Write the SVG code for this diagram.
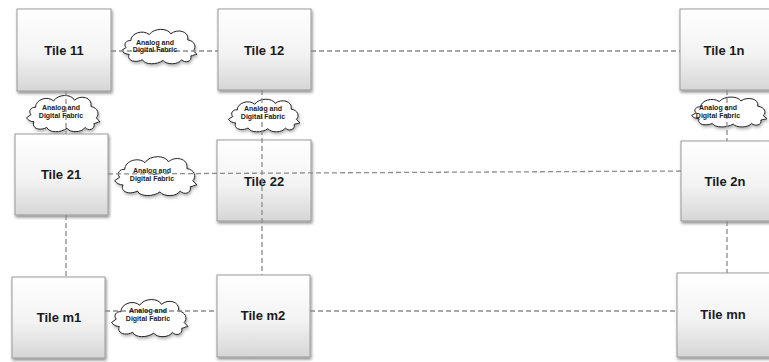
<svg xmlns="http://www.w3.org/2000/svg" xmlns:xlink="http://www.w3.org/1999/xlink" width="769" height="362" viewBox="0 0 769 362">
<style>
.tile{fill:url(#tg);stroke:#9a9a9a;stroke-width:1;filter:url(#sh)}
.tl{font-family:"Liberation Sans",Arial,sans-serif;font-weight:bold;font-size:13px;fill:#1a1a1a;text-anchor:middle}
.cl{font-family:"Liberation Sans",Arial,sans-serif;font-weight:bold;font-size:7px;fill:#222;text-anchor:middle}
.cloud{fill:#fff;stroke:#222;stroke-width:1;vector-effect:non-scaling-stroke}
.dash{stroke:#8c8c8c;stroke-width:1.3;stroke-dasharray:5 3;fill:none}
</style>
<defs>
<linearGradient id="tg" x1="0" y1="0" x2="0" y2="1">
<stop offset="0" stop-color="#ffffff"/>
<stop offset="0.55" stop-color="#f3f3f3"/>
<stop offset="1" stop-color="#d6d6d6"/>
</linearGradient>
<filter id="sh" x="-20%" y="-20%" width="140%" height="140%">
<feDropShadow dx="1" dy="2" stdDeviation="1.5" flood-color="#000" flood-opacity="0.45"/>
</filter>
<filter id="csh" x="-20%" y="-20%" width="140%" height="150%">
<feDropShadow dx="1" dy="2" stdDeviation="1.5" flood-color="#000" flood-opacity="0.3"/>
</filter>
<symbol id="cloud" viewBox="0 0 100 50" preserveAspectRatio="none" overflow="visible">
<path class="cloud" d="M8,27 C4,23 8,17 14,18 C14,8 30,3 38,10 C44,1 62,1 66,9 C74,2 90,5 88,17 C97,18 100,27 95,31 L100,36 C97,36 95,38 92,38 C94,46 84,48 80,43 C76,50 60,50 56,44 C48,50 32,50 29,43 C20,48 8,44 12,36 C8,36 4,34 2,31 Z"/>
</symbol>
</defs>

<g id="clouds">
<g id="cloud-1" filter="url(#csh)"><use xlink:href="#cloud" x="120" y="27" width="77" height="38"/></g>
<g id="cloud-2" filter="url(#csh)"><use xlink:href="#cloud" x="25" y="93" width="75" height="40"/></g>
<g id="cloud-3" filter="url(#csh)"><use xlink:href="#cloud" x="227" y="97" width="73" height="36"/></g>
<g id="cloud-4" filter="url(#csh)"><use xlink:href="#cloud" x="113" y="154" width="84" height="43"/></g>
<g id="cloud-5" filter="url(#csh)"><use xlink:href="#cloud" x="110" y="297" width="78" height="41"/></g>
<g id="cloud-6" filter="url(#csh)"><use xlink:href="#cloud" x="690" y="95" width="77" height="33"/></g>
</g>

<g id="tile-11"><rect class="tile" x="17" y="9" width="94" height="82"/><text class="tl" x="64" y="55">Tile 11</text></g>
<g id="tile-12"><rect class="tile" x="218" y="9" width="93" height="81"/><text class="tl" x="264" y="55">Tile 12</text></g>
<g id="tile-1n"><rect class="tile" x="680" y="9" width="94" height="81"/><text class="tl" x="724" y="55">Tile 1n</text></g>
<g id="tile-21"><rect class="tile" x="15" y="134" width="93" height="81"/><text class="tl" x="61" y="179">Tile 21</text></g>
<g id="tile-22"><rect class="tile" x="217" y="140" width="94" height="81"/><text class="tl" x="264" y="186">Tile 22</text></g>
<g id="tile-2n"><rect class="tile" x="681" y="141" width="94" height="80"/><text class="tl" x="725" y="186">Tile 2n</text></g>
<g id="tile-m1"><rect class="tile" x="12" y="277" width="93" height="81"/><text class="tl" x="59" y="322">Tile m1</text></g>
<g id="tile-m2"><rect class="tile" x="217" y="275" width="93" height="82"/><text class="tl" x="263" y="320">Tile m2</text></g>
<g id="tile-mn"><rect class="tile" x="677" y="273" width="94" height="84"/><text class="tl" x="723" y="319">Tile mn</text></g>

<g id="connectors">
<line class="dash" x1="111" y1="51" x2="218" y2="51"/>
<line class="dash" x1="311" y1="51" x2="680" y2="51"/>
<line class="dash" x1="108" y1="174" x2="681" y2="171"/>
<line class="dash" x1="105" y1="311" x2="217" y2="311"/>
<line class="dash" x1="310" y1="311" x2="677" y2="311"/>
<line class="dash" x1="66" y1="91" x2="66" y2="134"/>
<line class="dash" x1="66" y1="215" x2="66" y2="277"/>
<line class="dash" x1="262" y1="90" x2="262" y2="275"/>
<line class="dash" x1="727" y1="90" x2="727" y2="141"/>
<line class="dash" x1="727" y1="221" x2="727" y2="273"/>
</g>

<g id="cloud-labels">
<text class="cl" x="155" y="45">Analog and</text><text class="cl" x="155" y="52">Digital Fabric</text>
<text class="cl" x="61" y="110">Analog and</text><text class="cl" x="61" y="118">Digital Fabric</text>
<text class="cl" x="263" y="111">Analog and</text><text class="cl" x="263" y="119">Digital Fabric</text>
<text class="cl" x="152" y="173">Analog and</text><text class="cl" x="152" y="181">Digital Fabric</text>
<text class="cl" x="148" y="313">Analog and</text><text class="cl" x="148" y="321">Digital Fabric</text>
<text class="cl" x="718" y="110">Analog and</text><text class="cl" x="718" y="118">Digital Fabric</text>
</g>
</svg>
